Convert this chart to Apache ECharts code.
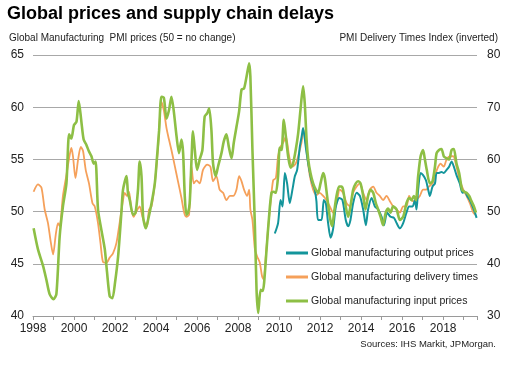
<!DOCTYPE html>
<html><head><meta charset="utf-8">
<script src="https://cdn.jsdelivr.net/npm/echarts@6/dist/echarts.min.js"></script>
<style>html,body{margin:0;padding:0;background:#fff}#c{width:518px;height:368px}</style>
</head><body><div id="c"></div>
<script>
// ---- data (decimal year, value) ----
const titleText = 'Global prices and supply chain delays';
const leftAxisTitle = 'Global Manufacturing  PMI prices (50 = no change)';
const rightAxisTitle = 'PMI Delivery Times Index (inverted)';
const sourceText = 'Sources: IHS Markit, JPMorgan.';
const seriesNames = ['Global manufacturing output prices','Global manufacturing delivery times','Global manufacturing input prices'];
const leftTicks = [40,45,50,55,60,65];
const rightTicks = [30,40,50,60,70,80];

// input prices (left axis)
const inputX = [1998.03,1998.24,1998.49,1998.65,1998.81,1999.00,1999.14,1999.30,1999.46,1999.63,
1999.76,1999.87,2000.00,2000.12,2000.23,2000.36,2000.47,2000.60,2000.72,2000.85,
2000.96,2001.05,2001.17,2001.33,2001.50,2001.61,2001.74,2001.87,2002.00,2002.15,
2002.31,2002.39,2002.56,2002.63,2002.72,2002.88,2003.00,2003.12,2003.20,2003.29,
2003.37,2003.50,2003.61,2003.78,2003.94,2004.05,2004.15,2004.26,2004.38,2004.51,
2004.63,2004.75,2004.86,2005.00,2005.12,2005.24,2005.32,2005.40,2005.48,2005.56,
2005.64,2005.73,2005.80,2005.89,2006.00,2006.13,2006.26,2006.37,2006.49,2006.59,
2006.70,2006.78,2006.91,2007.02,2007.19,2007.30,2007.43,2007.55,2007.68,2007.79,
2007.92,2008.05,2008.17,2008.29,2008.41,2008.54,2008.60,2008.70,2008.82,2008.90,
2008.98,2009.10,2009.20,2009.27,2009.39,2009.51,2009.63,2009.74,2009.84,2009.95,
2010.03,2010.12,2010.23,2010.33,2010.44,2010.56,2010.68,2010.81,2010.93,2011.04,
2011.17,2011.25,2011.34,2011.42,2011.53,2011.66,2011.79,2011.90,2012.02,2012.15,
2012.23,2012.34,2012.47,2012.59,2012.68,2012.80,2012.93,2013.04,2013.12,2013.25,
2013.37,2013.48,2013.61,2013.74,2013.85,2013.97,2014.10,2014.21,2014.34,2014.46,
2014.59,2014.72,2014.83,2014.95,2015.07,2015.20,2015.32,2015.43,2015.56,2015.73,
2015.89,2016.05,2016.21,2016.34,2016.46,2016.57,2016.67,2016.78,2016.90,2017.02,
2017.10,2017.20,2017.35,2017.48,2017.60,2017.68,2017.80,2017.92,2018.03,2018.17,
2018.29,2018.41,2018.52,2018.65,2018.78,2018.92,2019.03,2019.14,2019.27,2019.38,
2019.50,2019.60];
const inputY = [48.4,46.4,44.8,43.5,42.1,41.6,42.1,47.6,50.5,52.7,
57.4,57.0,58.3,58.6,60.6,58.6,56.9,56.4,55.8,55.3,
54.6,54.8,50.2,48.3,46.4,44.2,41.9,41.7,43.2,45.7,
49.9,52.1,53.4,51.8,51.1,49.7,49.9,52.1,54.8,53.4,
49.5,48.4,49.2,50.8,52.7,55.3,57.8,61.0,60.9,58.9,
59.7,61.0,59.7,57.2,55.6,56.9,55.6,51.5,49.7,49.9,
50.8,55.0,57.7,55.9,54.0,55.0,55.9,59.1,59.4,59.9,
57.8,54.6,53.4,54.3,55.6,56.7,57.4,56.2,55.1,56.6,
58.1,59.6,61.7,61.8,62.9,64.2,62.9,55.9,48.6,42.5,
40.3,42.5,42.4,43.2,46.4,49.5,51.8,51.9,51.8,53.4,
56.1,55.9,58.8,57.2,55.3,54.2,54.6,55.9,57.5,59.7,
62.0,60.4,56.9,55.0,53.7,52.7,52.1,51.8,52.7,53.7,
53.2,51.5,49.5,48.6,49.9,51.5,52.4,52.4,52.1,50.5,
49.5,50.5,52.1,52.7,52.9,52.7,51.5,50.2,51.5,52.1,
51.8,50.8,50.2,49.5,48.7,49.9,50.3,49.9,50.5,50.2,
49.2,49.5,50.8,51.3,51.1,51.5,51.1,53.4,55.3,55.9,
55.1,54.0,52.7,52.9,54.3,55.6,55.9,56.0,55.3,55.1,
55.0,55.9,56.0,54.6,53.7,52.1,51.9,51.8,51.5,51.0,
50.5,49.9];

// delivery times, inverted (right axis)
const deliveryX = [1998.03,1998.24,1998.41,1998.57,1998.73,1998.85,1998.98,1999.11,1999.22,1999.30,
1999.46,1999.63,1999.76,1999.87,1999.95,2000.07,2000.20,2000.33,2000.44,2000.57,
2000.73,2000.90,2001.01,2001.17,2001.29,2001.41,2001.58,2001.74,2001.90,2002.07,
2002.23,2002.39,2002.47,2002.59,2002.68,2002.80,2002.91,2003.04,2003.20,2003.34,
2003.45,2003.56,2003.66,2003.78,2003.94,2004.10,2004.26,2004.38,2004.51,2004.63,
2004.75,2004.90,2005.07,2005.24,2005.37,2005.48,2005.61,2005.73,2005.84,2005.97,
2006.13,2006.29,2006.49,2006.65,2006.78,2006.94,2007.10,2007.27,2007.43,2007.60,
2007.76,2007.92,2008.05,2008.17,2008.29,2008.44,2008.54,2008.60,2008.70,2008.82,
2008.93,2009.06,2009.17,2009.25,2009.35,2009.46,2009.58,2009.71,2009.84,2009.95,
2010.07,2010.20,2010.33,2010.49,2010.65,2010.81,2010.93,2011.09,2011.20,2011.37,
2011.50,2011.66,2011.82,2011.98,2012.15,2012.31,2012.47,2012.63,2012.80,2012.96,
2013.12,2013.29,2013.45,2013.61,2013.78,2013.94,2014.10,2014.26,2014.42,2014.59,
2014.75,2014.91,2015.07,2015.24,2015.40,2015.56,2015.73,2015.89,2016.05,2016.21,
2016.34,2016.51,2016.67,2016.86,2017.02,2017.18,2017.30,2017.48,2017.64,2017.76,
2017.87,2018.03,2018.17,2018.33,2018.49,2018.65,2018.81,2018.98,2019.14,2019.30,
2019.47,2019.57];
const deliveryY = [53.8,55.2,54.6,50.4,47.8,44.6,41.8,45.6,47.8,47.2,
53.0,57.0,60.2,62.2,60.6,56.4,60.0,62.4,61.6,58.0,
55.4,51.6,51.0,47.8,44.0,40.4,40.2,41.2,42.0,44.0,
48.0,52.2,53.6,53.0,53.8,50.4,49.0,50.0,51.0,49.0,
47.8,47.2,50.4,51.0,55.4,62.4,71.0,69.4,66.0,63.8,
61.8,59.0,55.8,52.6,49.8,49.0,49.4,58.6,55.4,56.0,
55.4,58.0,59.0,58.6,55.8,56.8,54.2,53.6,52.2,53.0,
53.0,54.2,56.8,55.8,54.2,53.0,54.2,50.4,48.4,42.8,
41.4,40.2,37.6,37.0,41.4,46.6,51.6,56.0,56.4,60.6,
62.4,63.2,64.4,60.6,58.6,59.2,60.6,63.2,65.6,60.6,
56.8,54.2,53.2,53.6,53.0,52.2,51.0,49.8,51.6,54.2,
53.6,51.6,51.0,53.6,54.8,55.4,53.6,52.2,54.2,54.8,
53.6,53.0,52.2,53.0,52.0,51.0,50.4,49.8,51.0,51.0,
53.0,52.0,52.2,53.0,54.2,54.2,54.8,55.4,57.4,58.6,
59.2,58.6,60.0,60.6,60.6,58.6,56.0,54.2,53.0,51.6,
49.8,49.4];

// output prices (left axis)
const outputX = [2009.79,2009.95,2010.07,2010.17,2010.28,2010.39,2010.52,2010.65,2010.77,2010.88,
2011.01,2011.10,2011.17,2011.30,2011.42,2011.58,2011.74,2011.82,2011.90,2012.07,
2012.18,2012.28,2012.39,2012.51,2012.63,2012.77,2012.93,2013.09,2013.25,2013.37,
2013.48,2013.61,2013.78,2013.94,2014.10,2014.23,2014.34,2014.51,2014.67,2014.83,
2015.00,2015.11,2015.27,2015.43,2015.60,2015.73,2015.89,2016.05,2016.21,2016.34,
2016.51,2016.62,2016.70,2016.78,2016.90,2017.02,2017.16,2017.27,2017.35,2017.48,
2017.60,2017.68,2017.80,2017.92,2018.03,2018.17,2018.29,2018.41,2018.52,2018.65,
2018.81,2018.94,2019.06,2019.17,2019.30,2019.43,2019.55,2019.63];
const outputY = [47.9,48.9,51.1,50.5,53.7,52.7,50.8,52.1,53.4,54.0,
56.2,57.2,58.0,56.2,54.6,53.0,52.1,51.0,49.2,49.2,
51.1,50.8,48.9,47.5,48.3,50.5,51.3,51.1,49.2,48.6,
49.2,50.8,51.8,51.5,50.2,48.7,50.2,51.3,50.5,50.2,
49.5,48.7,49.9,49.5,49.4,48.9,48.4,48.9,49.9,50.5,
50.5,51.1,50.2,52.1,53.7,53.5,53.0,52.1,51.5,52.4,
52.7,53.7,53.7,53.8,53.7,54.0,54.3,54.8,54.3,53.5,
52.7,51.8,51.9,51.5,51.1,50.5,49.9,49.4];

// ---- chart ----
const FONT = '"Liberation Sans", Arial, sans-serif';
const zip = (xs, ys) => xs.map((x, i) => [x, ys[i]]);
const chart = echarts.init(document.getElementById('c'), null, {renderer: 'canvas'});
const colors = {output: '#13959b', delivery: '#f5a05a', input: '#8dbf45'};

chart.setOption({
  animation: false,
  backgroundColor: '#fff',
  textStyle: {fontFamily: FONT},
  title: {
    text: titleText, left: 7, top: 5, padding: [0, 0, 0, 0],
    textStyle: {fontSize: 18, fontWeight: 'bold', color: '#000', fontFamily: FONT}
  },
  grid: {left: 33, right: 41, top: 55, bottom: 52},
  legend: {
    orient: 'vertical', left: 286, top: 246, padding: 0,
    itemWidth: 22, itemHeight: 3, itemGap: 10, icon: 'rect',
    data: seriesNames,
    textStyle: {fontSize: 10.5, color: '#222', lineHeight: 14, fontFamily: FONT, padding: [0, 0, 0, -2]}
  },
  xAxis: {
    type: 'value', min: 1998, max: 2019.65, interval: 1,
    axisLine: {lineStyle: {color: '#9a9a9a'}},
    axisTick: {length: 4, lineStyle: {color: '#9a9a9a'}},
    axisLabel: {
      formatter: v => (Math.abs(v % 2) < 1e-9 ? String(v) : ''),
      fontSize: 12, color: '#222', margin: 7, fontFamily: FONT
    },
    splitLine: {show: false}
  },
  yAxis: [
    {
      type: 'value', min: leftTicks[0], max: leftTicks[leftTicks.length - 1], interval: 5,
      axisLine: {show: false}, axisTick: {show: false},
      axisLabel: {fontSize: 12, color: '#222', margin: 9, fontFamily: FONT},
      splitLine: {lineStyle: {color: '#a8a8a8', width: 1}}
    },
    {
      type: 'value', min: rightTicks[0], max: rightTicks[rightTicks.length - 1], interval: 10,
      position: 'right',
      axisLine: {show: false}, axisTick: {show: false},
      axisLabel: {fontSize: 12, color: '#222', margin: 10, fontFamily: FONT},
      splitLine: {show: false}
    }
  ],
  graphic: [
    {type: 'text', left: 9, top: 33, style: {text: leftAxisTitle, font: '10px "Liberation Sans", Arial, sans-serif', fill: '#222'}},
    {type: 'text', right: 20, top: 33, style: {text: rightAxisTitle, font: '10px "Liberation Sans", Arial, sans-serif', fill: '#222'}},
    {type: 'text', right: 22, top: 339, style: {text: sourceText, font: '9.5px "Liberation Sans", Arial, sans-serif', fill: '#222'}}
  ],
  series: [
    {
      name: seriesNames[1], type: 'line', yAxisIndex: 1, data: zip(deliveryX, deliveryY),
      showSymbol: false, smooth: 0.25, z: 2,
      lineStyle: {color: colors.delivery, width: 1.8}, itemStyle: {color: colors.delivery}
    },
    {
      name: seriesNames[0], type: 'line', yAxisIndex: 0, data: zip(outputX, outputY),
      showSymbol: false, smooth: 0.25, z: 3,
      lineStyle: {color: colors.output, width: 2}, itemStyle: {color: colors.output}
    },
    {
      name: seriesNames[2], type: 'line', yAxisIndex: 0, data: zip(inputX, inputY),
      showSymbol: false, smooth: 0.25, z: 4,
      lineStyle: {color: colors.input, width: 2.6}, itemStyle: {color: colors.input}
    }
  ]
});
</script>
</body></html>
